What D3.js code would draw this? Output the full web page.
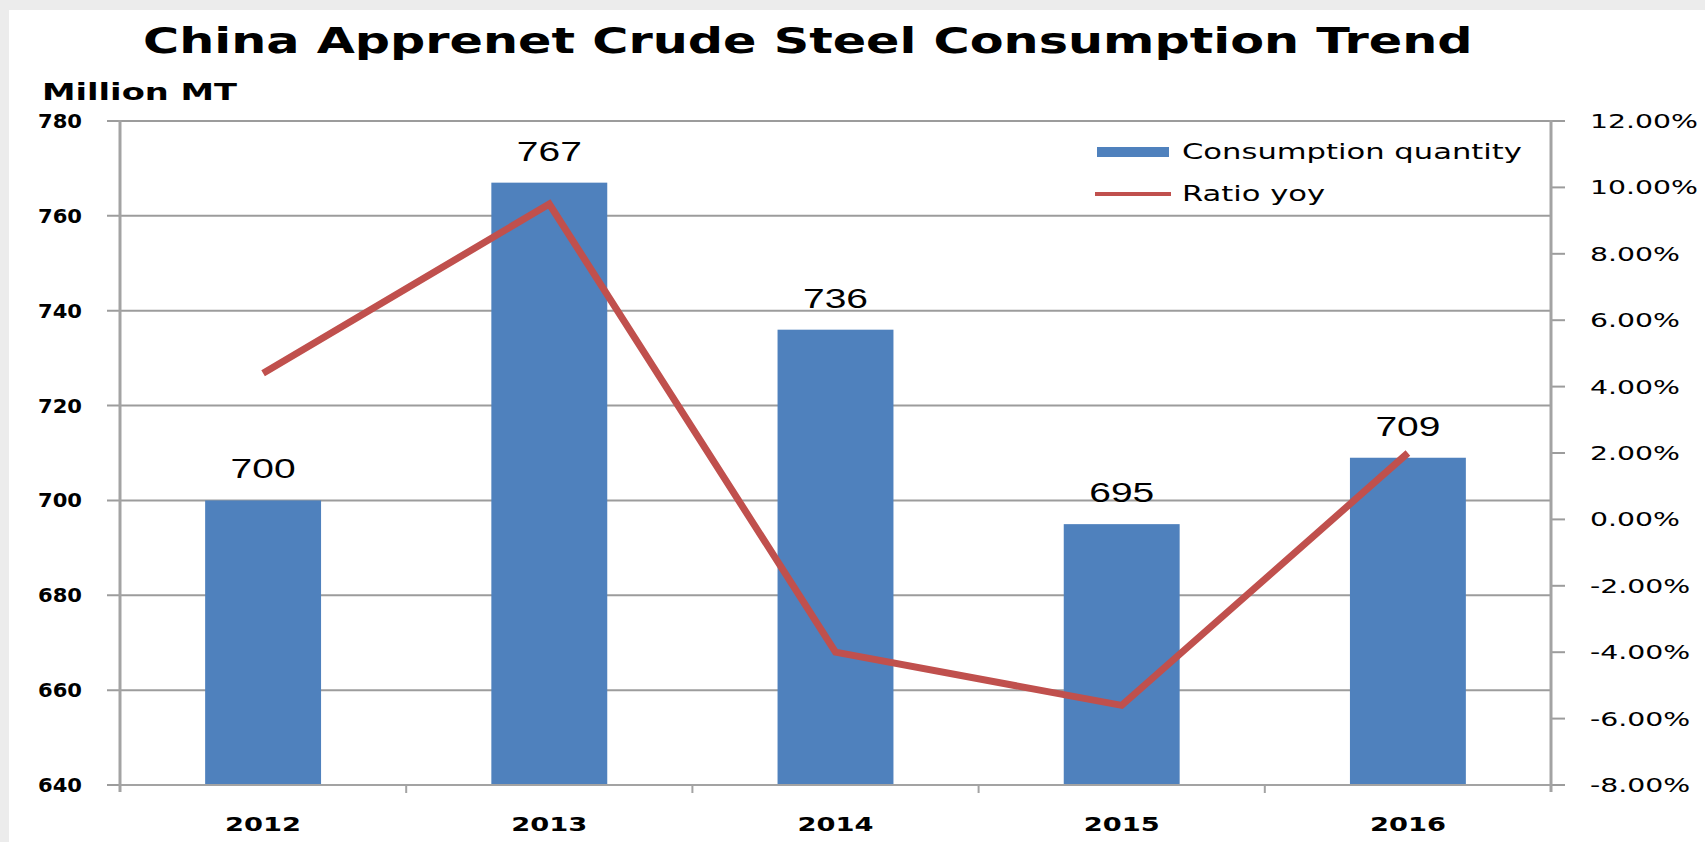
<!DOCTYPE html>
<html>
<head>
<meta charset="utf-8">
<script src="https://cdn.jsdelivr.net/npm/d3@7"></script>
<style>
  html, body { margin: 0; padding: 0; background: #ececec; }
  svg { display: block; }
</style>
</head>
<body>
<svg id="chart" width="1705" height="842"></svg>
<script>
var years = ['2012', '2013', '2014', '2015', '2016'];
var consumption = [700, 767, 736, 695, 709];
var ratioYoy = [4.4, 9.5, -4.0, -5.6, 2.0];
var leftTicks = [640, 660, 680, 700, 720, 740, 760, 780];
var rightTicks = [-8, -6, -4, -2, 0, 2, 4, 6, 8, 10, 12];

var svg = d3.select('#chart');

// plot edges ("top" is taken by window.top, so keep them prefixed)
var plotL = 120, plotR = 1551, plotT = 121, plotB = 785;

var x = d3.scaleBand().domain(years).range([plotL, plotR])
  .paddingInner(0.595).paddingOuter(0.2975);
var yL = d3.scaleLinear().domain([640, 780]).range([plotB, plotT]);
var yR = d3.scaleLinear().domain([-8, 12]).range([plotB, plotT]);

// white chart area
svg.append('rect').attr('x', 9).attr('y', 10).attr('width', 1705 - 9).attr('height', 842 - 10)
  .attr('fill', '#ffffff');

// measure a string and work out how much to stretch it sideways
var measure = function(str, font, weight, size) {
  var t = svg.append('text').attr('font-family', font).attr('font-weight', weight)
    .attr('font-size', size).text(str);
  var w = t.node().getComputedTextLength();
  t.remove();
  return w;
};
var stretch = function(str, font, weight, size, target) {
  return target / measure(str, font, weight, size);
};

var sans = 'DejaVu Sans, Verdana, sans-serif';
var arial = 'Liberation Sans, Arial, sans-serif';

// gridlines with left ticks
svg.append('g').selectAll('line').data(leftTicks).enter().append('line')
  .attr('x1', plotL - 13)
  .attr('x2', function(d) { return (d == 780 || d == 640) ? plotR + 14 : plotR; })
  .attr('y1', function(d) { return yL(d); })
  .attr('y2', function(d) { return yL(d); })
  .attr('stroke', '#9c9c9c').attr('stroke-width', 2);

// right ticks
svg.append('g').selectAll('line').data(rightTicks).enter().append('line')
  .attr('x1', plotR).attr('x2', plotR + 14)
  .attr('y1', function(d) { return yR(d); })
  .attr('y2', function(d) { return yR(d); })
  .attr('stroke', '#9c9c9c').attr('stroke-width', 2);

// bars
svg.append('g').selectAll('rect').data(consumption).enter().append('rect')
  .attr('x', function(d, i) { return x(years[i]); })
  .attr('width', x.bandwidth())
  .attr('y', function(d) { return yL(d); })
  .attr('height', function(d) { return yL(640) - yL(d); })
  .attr('fill', '#4f81bd');

// ratio line
var line = d3.line()
  .x(function(d, i) { return x(years[i]) + x.bandwidth() / 2; })
  .y(function(d) { return yR(d); });
svg.append('path').datum(ratioYoy).attr('d', line)
  .attr('fill', 'none').attr('stroke', '#c0504d').attr('stroke-width', 7)
  .attr('stroke-linejoin', 'miter');

// axes lines
svg.append('line').attr('x1', plotL).attr('x2', plotL).attr('y1', plotT - 1).attr('y2', plotB + 7)
  .attr('stroke', '#a3a3a3').attr('stroke-width', 3);
svg.append('line').attr('x1', plotR).attr('x2', plotR).attr('y1', plotT - 1).attr('y2', plotB + 7)
  .attr('stroke', '#a3a3a3').attr('stroke-width', 3);
svg.append('line').attr('x1', plotL).attr('x2', plotR).attr('y1', plotB).attr('y2', plotB)
  .attr('stroke', '#a3a3a3').attr('stroke-width', 2);
svg.append('g').selectAll('line').data(years.slice(1)).enter().append('line')
  .attr('x1', function(d) { return x(d) - x.step() * x.paddingInner() / 2; })
  .attr('x2', function(d) { return x(d) - x.step() * x.paddingInner() / 2; })
  .attr('y1', plotB).attr('y2', plotB + 8)
  .attr('stroke', '#a3a3a3').attr('stroke-width', 2);

// title
var titleText = 'China Apprenet Crude Steel Consumption Trend';
var sTitle = stretch(titleText, sans, 'bold', 35, 1330);
svg.append('text').attr('transform', 'translate(143,53) scale(' + sTitle + ',1)')
  .attr('font-family', sans).attr('font-weight', 'bold').attr('font-size', 35)
  .attr('fill', '#000').text(titleText);

// unit label
var sUnit = stretch('Million MT', sans, 'bold', 23, 195);
svg.append('text').attr('transform', 'translate(42,100) scale(' + sUnit + ',1)')
  .attr('font-family', sans).attr('font-weight', 'bold').attr('font-size', 23)
  .attr('fill', '#000').text('Million MT');

// left tick labels
var sLeft = stretch('780', sans, 'bold', 19, 44);
svg.append('g').selectAll('text').data(leftTicks).enter().append('text')
  .attr('transform', function(d) { return 'translate(82,' + (yL(d) + 7) + ') scale(' + sLeft + ',1)'; })
  .attr('text-anchor', 'end')
  .attr('font-family', sans).attr('font-weight', 'bold').attr('font-size', 19)
  .attr('fill', '#000').text(function(d) { return d; });

// right tick labels
var sRight = stretch('12.00%', sans, 'normal', 19, 108);
svg.append('g').selectAll('text').data(rightTicks).enter().append('text')
  .attr('transform', function(d) { return 'translate(1590,' + (yR(d) + 7) + ') scale(' + sRight + ',1)'; })
  .attr('font-family', sans).attr('font-size', 19)
  .attr('fill', '#000').text(function(d) { return d.toFixed(2) + '%'; });

// category labels
var sCat = stretch('2012', sans, 'bold', 20, 76);
svg.append('g').selectAll('text').data(years).enter().append('text')
  .attr('transform', function(d) { return 'translate(' + (x(d) + x.bandwidth() / 2) + ',831) scale(' + sCat + ',1)'; })
  .attr('text-anchor', 'middle')
  .attr('font-family', sans).attr('font-weight', 'bold').attr('font-size', 20)
  .attr('fill', '#000').text(function(d) { return d; });

// data labels
var sVal = stretch('767', arial, 'normal', 28, 65);
svg.append('g').selectAll('text').data(consumption).enter().append('text')
  .attr('transform', function(d, i) {
    return 'translate(' + (x(years[i]) + x.bandwidth() / 2) + ',' + (yL(d) - 22) + ') scale(' + sVal + ',1)';
  })
  .attr('text-anchor', 'middle')
  .attr('font-family', arial).attr('font-size', 28)
  .attr('fill', '#000').text(function(d) { return d; });

// legend
var sLeg = stretch('Consumption quantity', sans, 'normal', 21, 340);
var legend = svg.append('g');
legend.append('rect').attr('x', 1097).attr('y', 147).attr('width', 72).attr('height', 10)
  .attr('fill', '#4f81bd');
legend.append('line').attr('x1', 1095).attr('x2', 1171).attr('y1', 194).attr('y2', 194)
  .attr('stroke', '#c0504d').attr('stroke-width', 4);
legend.selectAll('text').data(['Consumption quantity', 'Ratio yoy']).enter().append('text')
  .attr('transform', function(d, i) { return 'translate(1182,' + (159 + i * 42) + ') scale(' + sLeg + ',1)'; })
  .attr('font-family', sans).attr('font-size', 21)
  .attr('fill', '#000').text(function(d) { return d; });
</script>
</body>
</html>
